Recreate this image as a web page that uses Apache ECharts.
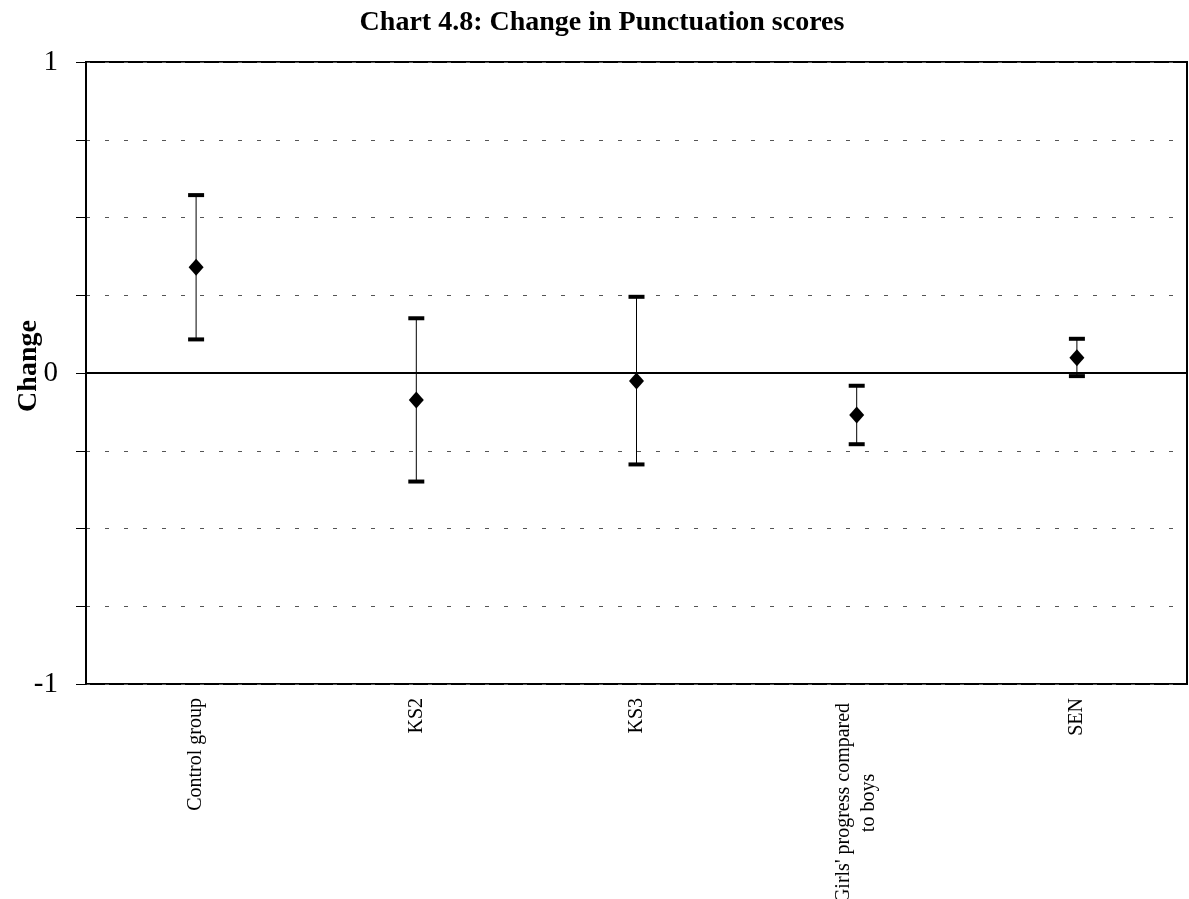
<!DOCTYPE html>
<html>
<head>
<meta charset="utf-8">
<script src="https://cdn.jsdelivr.net/npm/echarts@6/dist/echarts.min.js"></script>
<style>
html,body{margin:0;padding:0;background:#fff;}
#chart{width:1189px;height:899px;}
</style>
</head>
<body>
<div id="chart"></div>
<script>
var categories = ['Control group', 'KS2', 'KS3', "Girls' progress compared\nto boys", 'SEN'];
var meanValues = [0.340, -0.087, -0.026, -0.135, 0.049];
var upperValues = [0.572, 0.176, 0.245, -0.041, 0.110];
var lowerValues = [0.108, -0.349, -0.294, -0.229, -0.010];
var yTickLabels = {'1': '1', '0': '0', '-1': '-1'};

var errData = categories.map(function (c, i) { return [i, lowerValues[i], upperValues[i]]; });
var meanData = categories.map(function (c, i) { return [i, meanValues[i]]; });

var chart = echarts.init(document.getElementById('chart'));
var FONT = '"Liberation Serif", "DejaVu Serif", serif';
chart.setOption({
  animation: false,
  backgroundColor: '#fff',
  title: {
    text: 'Chart 4.8: Change in Punctuation scores',
    left: 597, top: 4, textAlign: 'center',
    textStyle: {fontFamily: FONT, fontWeight: 'bold', fontSize: 28, color: '#000'}
  },
  grid: {
    left: 86, right: 2, top: 62, bottom: 215,
    outerBoundsMode: 'none', containLabel: false,
    show: true, borderColor: '#000', borderWidth: 2, backgroundColor: 'transparent'
  },
  xAxis: {
    type: 'category',
    data: categories,
    boundaryGap: true,
    axisLine: {show: true, lineStyle: {color: '#000', width: 2}},
    axisTick: {show: false},
    splitLine: {show: false},
    axisLabel: {
      rotate: 90, margin: 14, interval: 0,
      fontFamily: FONT, fontSize: 20, color: '#000', lineHeight: 25,
      formatter: function (v) {
        if (v.indexOf('\n') >= 0) {
          return v.split('\n').map(function (s) { return '{c|' + s + '}'; }).join('\n');
        }
        return v;
      },
      rich: {c: {width: 210, align: 'center', fontFamily: FONT, fontSize: 20, lineHeight: 25, color: '#000'}}
    }
  },
  yAxis: {
    type: 'value', min: -1, max: 1, interval: 0.25,
    name: 'Change', nameLocation: 'middle', nameGap: 43, nameRotate: 90,
    nameMoveOverlap: false,
    nameTextStyle: {fontFamily: FONT, fontWeight: 'bold', fontSize: 28, color: '#000', padding: [0, 0, 0, 14]},
    axisLine: {show: true, lineStyle: {color: '#000', width: 2}},
    axisTick: {show: true, inside: false, length: 10, lineStyle: {color: '#000', width: 1}},
    axisLabel: {
      margin: 28, fontFamily: FONT, fontSize: 29, color: '#000',
      formatter: function (v) {
        var k = String(Math.round(v * 100) / 100);
        return yTickLabels.hasOwnProperty(k) ? yTickLabels[k] : '';
      }
    },
    splitLine: {show: true, lineStyle: {color: '#555', width: 1, type: [4, 15]}}
  },
  series: [
    {
      type: 'custom',
      data: errData,
      z: 3,
      renderItem: function (params, api) {
        var x = api.value(0);
        var lo = api.coord([x, api.value(1)]);
        var hi = api.coord([x, api.value(2)]);
        var hw = 8;
        return {
          type: 'group',
          children: [
            {type: 'line', shape: {x1: lo[0], y1: lo[1], x2: hi[0], y2: hi[1]}, style: {stroke: '#000', lineWidth: 1}},
            {type: 'rect', shape: {x: hi[0] - hw, y: hi[1] - 2, width: hw * 2, height: 4}, style: {fill: '#000'}},
            {type: 'rect', shape: {x: lo[0] - hw, y: lo[1] - 2, width: hw * 2, height: 4}, style: {fill: '#000'}}
          ]
        };
      },
      markLine: {
        silent: true, symbol: 'none', label: {show: false},
        lineStyle: {color: '#000', width: 2, type: 'solid'},
        data: [{yAxis: 0}]
      }
    },
    {
      type: 'scatter',
      data: meanData,
      symbol: 'diamond',
      symbolSize: [15, 17],
      itemStyle: {color: '#000', opacity: 1},
      z: 4
    }
  ]
});
</script>
</body>
</html>
